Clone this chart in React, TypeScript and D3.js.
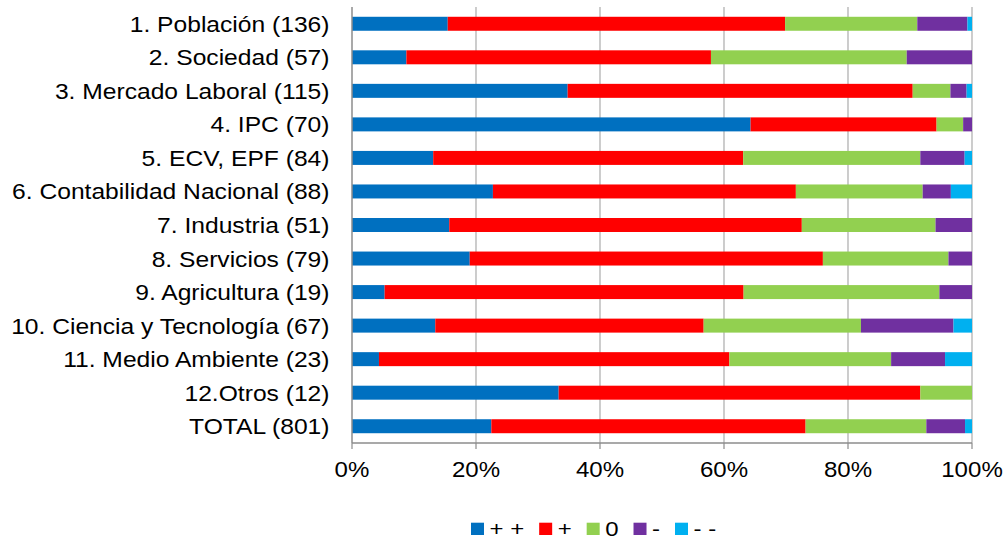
import React, { useEffect, useRef } from "react";
import * as d3 from "d3";

// Categories (number of items in parentheses)
const categories = [
  "1. Población (136)",
  "2. Sociedad (57)",
  "3. Mercado Laboral (115)",
  "4. IPC (70)",
  "5. ECV, EPF (84)",
  "6. Contabilidad Nacional (88)",
  "7. Industria (51)",
  "8. Servicios (79)",
  "9. Agricultura (19)",
  "10. Ciencia y Tecnología (67)",
  "11. Medio Ambiente (23)",
  "12.Otros (12)",
  "TOTAL (801)",
];

// Counts per rating, one value per category
const muyPositivo = [21, 5, 40, 45, 11, 20, 8, 15, 1, 9, 1, 4, 180];
const positivo = [74, 28, 64, 21, 42, 43, 29, 45, 11, 29, 13, 7, 406];
const neutro = [29, 18, 7, 3, 24, 18, 11, 16, 6, 17, 6, 1, 156];
const negativo = [11, 6, 3, 1, 6, 4, 3, 3, 1, 10, 2, 0, 50];
const muyNegativo = [1, 0, 1, 0, 1, 3, 0, 0, 0, 2, 1, 0, 9];

const seriesKeys = ["++", "+", "0", "-", "--"];
const seriesLabels = ["+ +", "+", "0", "-", "- -"];
const seriesColors = ["#0070C0", "#FF0000", "#92D050", "#7030A0", "#00B0F0"];
const xTicks = [0, 0.2, 0.4, 0.6, 0.8, 1];

const W = 1006;
const H = 540;
const FONT = "'Liberation Sans', Arial, Helvetica, sans-serif";

export default function App() {
  const ref = useRef<SVGSVGElement>(null);

  useEffect(() => {
    const svg = d3.select(ref.current);
    svg.selectAll("*").remove();

    const rows = categories.map((c, i) => ({
      cat: c,
      "++": muyPositivo[i],
      "+": positivo[i],
      "0": neutro[i],
      "-": negativo[i],
      "--": muyNegativo[i],
    }));

    const stacked = d3
      .stack<any>()
      .keys(seriesKeys)
      .offset(d3.stackOffsetExpand)(rows);

    const left = 352;
    const right = 972;
    const top = 7;
    const bottom = 443;

    const x = d3.scaleLinear().domain([0, 1]).range([left, right]);
    const y = d3
      .scaleBand<string>()
      .domain(categories)
      .range([top, bottom])
      .paddingInner(0.583)
      .paddingOuter(0.2915);

    // vertical gridlines
    svg
      .append("g")
      .selectAll("line")
      .data(xTicks.slice(1))
      .join("line")
      .attr("x1", (d) => x(d))
      .attr("x2", (d) => x(d))
      .attr("y1", top)
      .attr("y2", bottom)
      .attr("stroke", "#ababab")
      .attr("stroke-width", 1.2);

    // stacked bars
    svg
      .append("g")
      .selectAll("g")
      .data(stacked)
      .join("g")
      .attr("fill", (_d, i) => seriesColors[i])
      .selectAll("rect")
      .data((d) => d)
      .join("rect")
      .attr("x", (d) => x(d[0]))
      .attr("width", (d) => Math.max(0, x(d[1]) - x(d[0])))
      .attr("y", (d) => y(d.data.cat)!)
      .attr("height", y.bandwidth());

    // axes lines
    const axisColor = "#8c8c8c";
    svg
      .append("line")
      .attr("x1", left)
      .attr("x2", left)
      .attr("y1", top)
      .attr("y2", bottom)
      .attr("stroke", axisColor)
      .attr("stroke-width", 1.5);
    svg
      .append("line")
      .attr("x1", left)
      .attr("x2", right)
      .attr("y1", bottom)
      .attr("y2", bottom)
      .attr("stroke", axisColor)
      .attr("stroke-width", 1.5);
    svg
      .append("g")
      .selectAll("line")
      .data(xTicks)
      .join("line")
      .attr("x1", (d) => x(d))
      .attr("x2", (d) => x(d))
      .attr("y1", bottom)
      .attr("y2", bottom + 6)
      .attr("stroke", axisColor)
      .attr("stroke-width", 1.2);

    // x tick labels
    const pct = d3.format(".0%");
    svg
      .append("g")
      .selectAll("text")
      .data(xTicks)
      .join("text")
      .attr("transform", (d) => `translate(${x(d)},477) scale(1.12,1)`)
      .attr("text-anchor", "middle")
      .attr("font-family", FONT)
      .attr("font-size", 21.5)
      .attr("fill", "#000")
      .text((d) => pct(d));

    // category labels
    svg
      .append("g")
      .selectAll("text")
      .data(categories)
      .join("text")
      .attr(
        "transform",
        (d) => `translate(${left - 22.5},${y(d)! + y.bandwidth() / 2 + 8}) scale(1.145,1)`
      )
      .attr("text-anchor", "end")
      .attr("font-family", FONT)
      .attr("font-size", 21.5)
      .attr("fill", "#000")
      .text((d) => d);

    // legend
    const legend = svg.append("g");
    let lx = 471;
    const sx = 1.23;
    seriesLabels.forEach((lab, i) => {
      const g = legend.append("g").attr("transform", `translate(${lx},0)`);
      g.append("rect")
        .attr("x", 0)
        .attr("y", 522.7)
        .attr("width", 13)
        .attr("height", 12.3)
        .attr("fill", seriesColors[i]);
      const t = g
        .append("text")
        .attr("transform", `translate(18.5,536) scale(${sx},1)`)
        .attr("font-family", FONT)
        .attr("font-size", 19.5)
        .attr("fill", "#000")
        .style("white-space", "pre")
        .text(lab);
      const w = (t.node() as SVGTextElement).getComputedTextLength() * sx;
      lx += 18.5 + w + 15;
    });
  }, []);

  return (
    <svg
      ref={ref}
      width={W}
      height={H}
      style={{ position: "absolute", left: 0, top: 0, background: "#fff" }}
    />
  );
}
